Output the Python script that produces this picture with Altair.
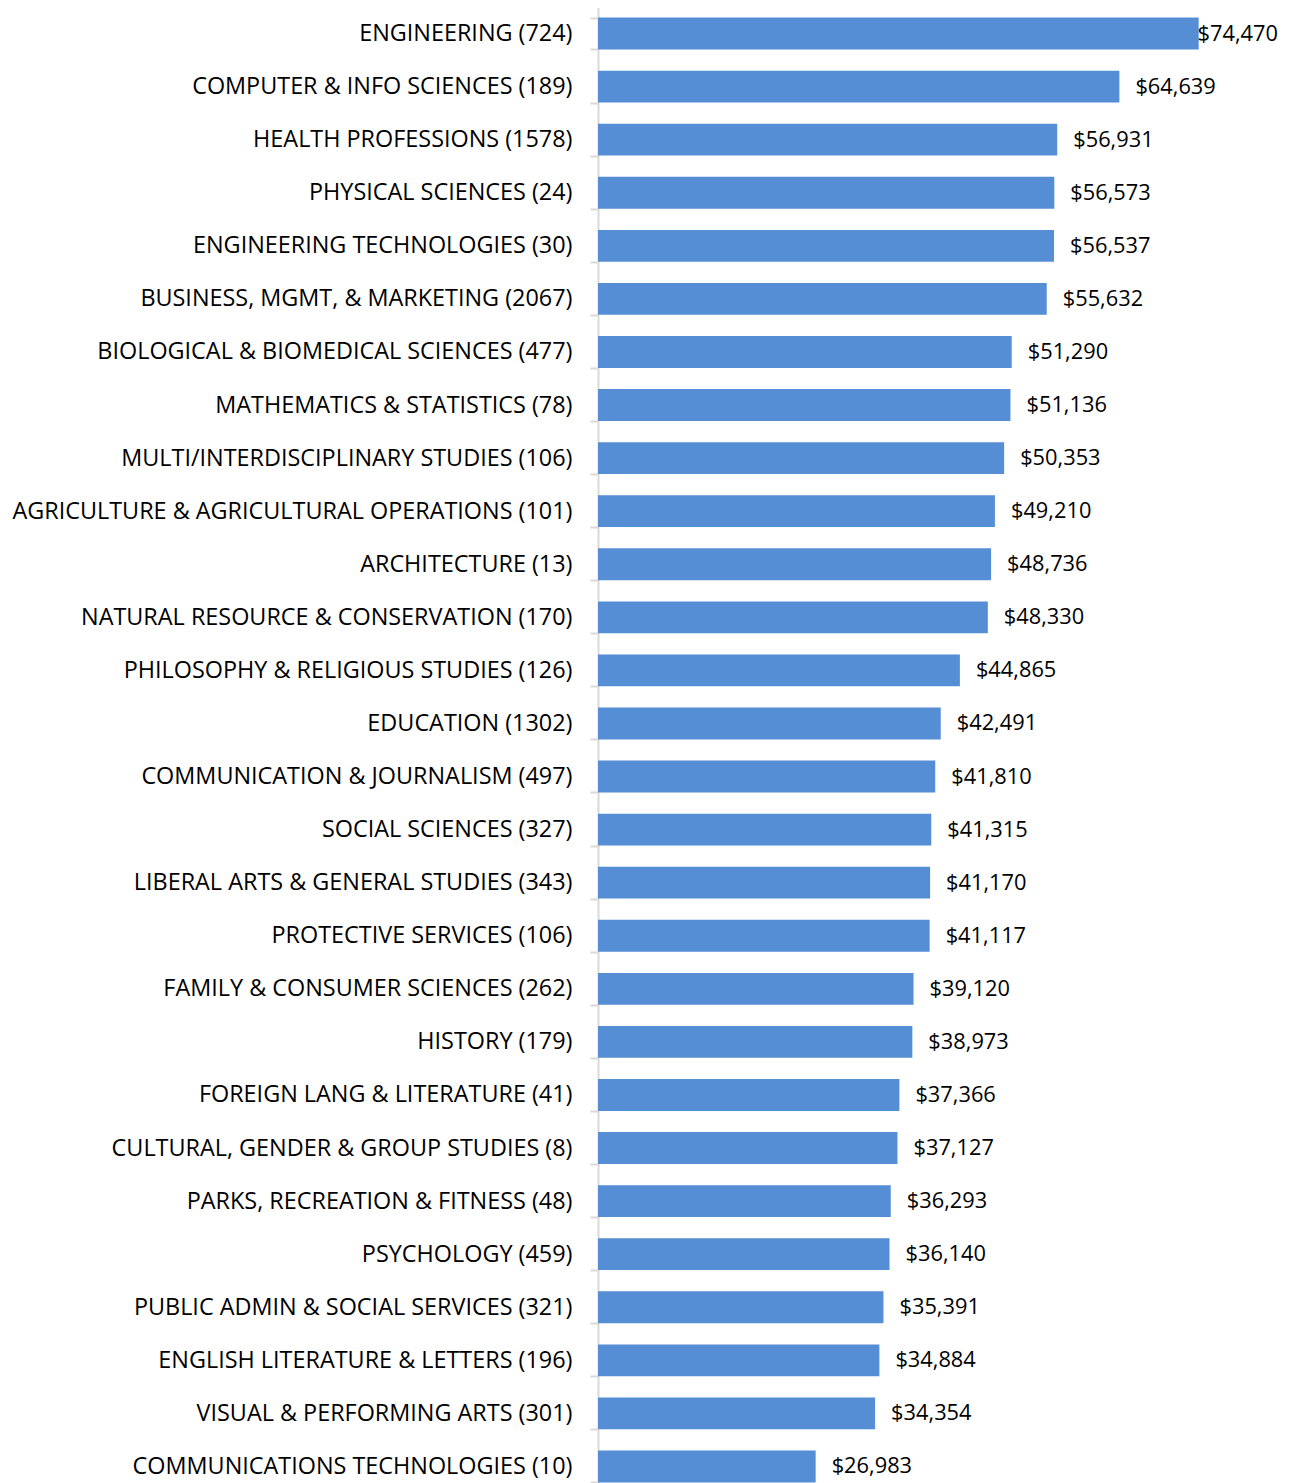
import altair as alt
import pandas as pd

majors = [
    "ENGINEERING (724)",
    "COMPUTER & INFO SCIENCES (189)",
    "HEALTH PROFESSIONS (1578)",
    "PHYSICAL SCIENCES (24)",
    "ENGINEERING TECHNOLOGIES (30)",
    "BUSINESS, MGMT, & MARKETING (2067)",
    "BIOLOGICAL & BIOMEDICAL SCIENCES (477)",
    "MATHEMATICS & STATISTICS (78)",
    "MULTI/INTERDISCIPLINARY STUDIES (106)",
    "AGRICULTURE & AGRICULTURAL OPERATIONS (101)",
    "ARCHITECTURE (13)",
    "NATURAL RESOURCE & CONSERVATION (170)",
    "PHILOSOPHY & RELIGIOUS STUDIES (126)",
    "EDUCATION (1302)",
    "COMMUNICATION & JOURNALISM (497)",
    "SOCIAL SCIENCES (327)",
    "LIBERAL ARTS & GENERAL STUDIES (343)",
    "PROTECTIVE SERVICES (106)",
    "FAMILY & CONSUMER SCIENCES (262)",
    "HISTORY (179)",
    "FOREIGN LANG & LITERATURE (41)",
    "CULTURAL, GENDER & GROUP STUDIES (8)",
    "PARKS, RECREATION & FITNESS (48)",
    "PSYCHOLOGY (459)",
    "PUBLIC ADMIN & SOCIAL SERVICES (321)",
    "ENGLISH LITERATURE & LETTERS (196)",
    "VISUAL & PERFORMING ARTS (301)",
    "COMMUNICATIONS TECHNOLOGIES (10)",
]
salaries = [
    74470, 64639, 56931, 56573, 56537, 55632, 51290, 51136, 50353, 49210,
    48736, 48330, 44865, 42491, 41810, 41315, 41170, 41117, 39120, 38973,
    37366, 37127, 36293, 36140, 35391, 34884, 34354, 26983,
]

df = pd.DataFrame({"major": majors, "salary": salaries})

FONT = "Open Sans"
FS_CAT = 23.4
FS_VAL = 21.8
XMAX = 84800
HEIGHT = 1486

y_enc = alt.Y(
    "major:N",
    sort=majors,
    title=None,
    scale=alt.Scale(paddingInner=0.4, paddingOuter=0.2),
    axis=alt.Axis(
        labelFont=FONT,
        labelFontSize=FS_CAT,
        labelColor="#000000",
        labelLimit=0,
        labelPadding=18,
        tickBand="extent",
        tickSize=8,
        tickColor="#d9d9d9",
        tickWidth=2,
        domainColor="#d9d9d9",
        domainWidth=2,
        grid=False,
    ),
)
x_enc = alt.X(
    "salary:Q",
    scale=alt.Scale(domain=[0, XMAX], nice=False),
    axis=None,
)

base = alt.Chart(df)

bars = base.mark_bar(color="#558ED5").encode(x=x_enc, y=y_enc)

labels = base.transform_filter(alt.datum.salary < 70000).mark_text(
    align="left", baseline="middle", dx=16, font=FONT, fontSize=FS_VAL, color="#000000"
).encode(x=x_enc, y=y_enc, text=alt.Text("salary:Q", format="$,.0f"))

top_label = base.transform_filter(alt.datum.salary >= 70000).mark_text(
    align="right", baseline="middle", dx=-4, font=FONT, fontSize=FS_VAL, color="#000000"
).encode(x=alt.value(684), y=y_enc, text=alt.Text("salary:Q", format="$,.0f"))

chart = (
    alt.layer(bars, labels, top_label)
    .properties(
        width=684,
        height=HEIGHT,
        autosize=alt.AutoSizeParams(type="none"),
        padding={"left": 590, "top": -1, "right": 0, "bottom": 0},
    )
    .configure_view(stroke=None)
    .configure(background="white")
)

chart.save("out.html", embed_options={"renderer": "svg", "actions": False})
